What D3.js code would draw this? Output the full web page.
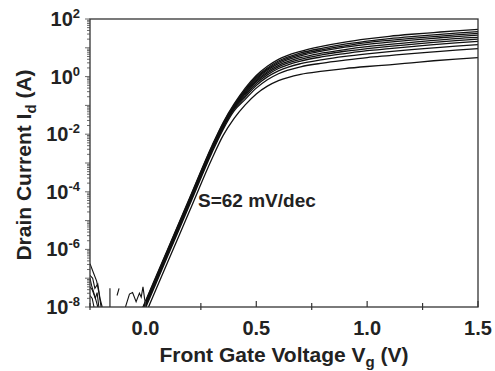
<!DOCTYPE html>
<html>
<head>
<meta charset="utf-8">
<script src="https://cdn.jsdelivr.net/npm/d3@7"></script>
<style>
  body { margin: 0; background: #fff; }
  text { font-family: "Liberation Sans", Arial, sans-serif; font-weight: bold; fill: #222; }
</style>
</head>
<body>
<div id="plot"></div>
<script>
var w = 495;
var h = 371;
var margin = {top: 19, right: 17, bottom: 64, left: 90};

// gate voltage (V) where the curves were read
var vg = [-0.02, 0.0, 0.1, 0.2, 0.3, 0.35, 0.4, 0.45, 0.5, 0.55, 0.6, 0.7, 0.8, 0.9, 1.0, 1.1, 1.2, 1.3, 1.4, 1.5];

// log10 of drain current (A), lowest curve first
var c0 = [-8.61, -8.25, -6.45, -4.65, -2.85, -2.05, -1.45, -0.98, -0.60, -0.33, -0.14, 0.08, 0.19, 0.28, 0.35, 0.41, 0.48, 0.55, 0.61, 0.656];
var c1 = [-8.40, -8.04, -6.24, -4.44, -2.64, -1.84, -1.19, -0.79, -0.40, -0.11, 0.10, 0.34, 0.47, 0.57, 0.66, 0.73, 0.80, 0.86, 0.92, 0.97];
var c2 = [-8.34, -7.98, -6.18, -4.38, -2.58, -1.78, -1.13, -0.71, -0.31, -0.01, 0.20, 0.45, 0.59, 0.70, 0.79, 0.87, 0.94, 1.00, 1.06, 1.11];
var c3 = [-8.31, -7.95, -6.15, -4.35, -2.55, -1.75, -1.10, -0.65, -0.24, 0.06, 0.28, 0.54, 0.69, 0.80, 0.90, 0.97, 1.04, 1.11, 1.17, 1.22];
var c4 = [-8.28, -7.92, -6.12, -4.32, -2.52, -1.72, -1.07, -0.60, -0.18, 0.12, 0.34, 0.60, 0.76, 0.88, 0.97, 1.05, 1.12, 1.19, 1.25, 1.30];
var c5 = [-8.26, -7.90, -6.10, -4.30, -2.50, -1.70, -1.05, -0.56, -0.14, 0.17, 0.39, 0.66, 0.82, 0.94, 1.04, 1.12, 1.19, 1.26, 1.32, 1.36];
var c6 = [-8.24, -7.88, -6.08, -4.28, -2.48, -1.68, -1.03, -0.52, -0.09, 0.22, 0.45, 0.72, 0.89, 1.02, 1.12, 1.20, 1.27, 1.33, 1.39, 1.44];
var c7 = [-8.22, -7.86, -6.06, -4.26, -2.46, -1.66, -1.01, -0.48, -0.05, 0.26, 0.50, 0.77, 0.94, 1.07, 1.18, 1.26, 1.33, 1.39, 1.45, 1.50];
var c8 = [-8.19, -7.83, -6.03, -4.23, -2.43, -1.63, -0.98, -0.45, -0.01, 0.30, 0.54, 0.82, 0.99, 1.13, 1.23, 1.32, 1.39, 1.45, 1.51, 1.56];
var c9 = [-8.16, -7.80, -6.00, -4.20, -2.40, -1.60, -0.95, -0.40, 0.04, 0.36, 0.60, 0.88, 1.06, 1.20, 1.31, 1.40, 1.47, 1.53, 1.59, 1.64];

// off-state noise below 0 V, [Vg, log10 Id]
var noiseA = [[-0.25, -6.5], [-0.235, -6.8], [-0.22, -7.1], [-0.21, -7.5], [-0.20, -8.0]];
var noiseB = [[-0.25, -6.9], [-0.238, -7.0], [-0.228, -7.35], [-0.215, -7.2], [-0.205, -7.7], [-0.195, -8.0]];
var noiseC = [[-0.25, -7.3], [-0.24, -7.4], [-0.226, -7.7], [-0.218, -7.5], [-0.21, -8.0]];
var noiseD = [[-0.25, -7.6], [-0.24, -7.7], [-0.232, -8.0]];
var noiseE = [[-0.25, -7.0], [-0.243, -7.25], [-0.235, -7.45], [-0.22, -7.85], [-0.215, -8.0]];
var noiseF = [[-0.16, -8.0], [-0.16, -7.35]];
var noiseG = [[-0.128, -7.6], [-0.119, -7.35]];
var noiseH = [[-0.09, -8.0], [-0.072, -7.55], [-0.058, -7.5], [-0.042, -7.82], [-0.027, -7.52], [-0.019, -7.66], [-0.011, -7.3], [-0.004, -7.7], [0.003, -8.0]];

var xMajor = [0.0, 0.5, 1.0, 1.5];
var xMinor = [-0.25, 0.25, 0.75, 1.25];
var yLabels = [-8, -6, -4, -2, 0, 2];

var curves = [c0, c1, c2, c3, c4, c5, c6, c7, c8, c9];
var noise = [noiseA, noiseB, noiseC, noiseD, noiseE, noiseF, noiseG, noiseH];

var xScale = d3.scaleLinear()
               .domain([-0.25, 1.5])
               .range([margin.left, w - margin.right]);

var yScale = d3.scaleLog()
               .domain([1e-8, 1e2])
               .range([h - margin.bottom, margin.top]);

var svg = d3.select("#plot")
            .append("svg")
            .attr("width", w)
            .attr("height", h);

svg.append("clipPath")
   .attr("id", "clip")
   .append("rect")
   .attr("x", margin.left)
   .attr("y", margin.top)
   .attr("width", w - margin.left - margin.right)
   .attr("height", h - margin.top - margin.bottom);

var line = d3.line()
             .x(function(d) { return xScale(d[0]); })
             .y(function(d) { return yScale(Math.pow(10, d[1])); })
             .curve(d3.curveMonotoneX);

var plot = svg.append("g").attr("clip-path", "url(#clip)");

plot.selectAll("path.curve")
    .data(curves)
    .enter()
    .append("path")
    .attr("class", "curve")
    .attr("d", function(c) { return line(c.map(function(v, i) { return [vg[i], v]; })); })
    .attr("fill", "none")
    .attr("stroke", "#111")
    .attr("stroke-width", 1.3);

plot.selectAll("path.noise")
    .data(noise)
    .enter()
    .append("path")
    .attr("class", "noise")
    .attr("d", d3.line()
                 .x(function(d) { return xScale(d[0]); })
                 .y(function(d) { return yScale(Math.pow(10, d[1])); }))
    .attr("fill", "none")
    .attr("stroke", "#111")
    .attr("stroke-width", 1.1);

// frame
var x0 = margin.left, x1 = w - margin.right, y0 = h - margin.bottom, y1 = margin.top;
svg.append("rect")
   .attr("x", x0).attr("y", y1)
   .attr("width", x1 - x0).attr("height", y0 - y1)
   .attr("fill", "none")
   .attr("stroke", "#333")
   .attr("stroke-width", 1.3);

// x ticks, pointing into the plot
svg.selectAll("line.xmaj")
   .data(xMajor)
   .enter()
   .append("line")
   .attr("x1", function(d) { return xScale(d); })
   .attr("x2", function(d) { return xScale(d); })
   .attr("y1", y0 - 6)
   .attr("y2", y0)
   .attr("stroke", "#333")
   .attr("stroke-width", 1.2);

svg.selectAll("line.xmin")
   .data(xMinor)
   .enter()
   .append("line")
   .attr("x1", function(d) { return xScale(d); })
   .attr("x2", function(d) { return xScale(d); })
   .attr("y1", y0 - 4)
   .attr("y2", y0 + 3)
   .attr("stroke", "#333")
   .attr("stroke-width", 1.2);

svg.selectAll("text.xlab")
   .data(xMajor)
   .enter()
   .append("text")
   .attr("x", function(d) { return xScale(d); })
   .attr("y", 335)
   .attr("text-anchor", "middle")
   .attr("font-size", "20px")
   .text(function(d) { return d.toFixed(1); });

// y ticks on the log axis, pointing out to the left
var yTicks = [];
for (var e = -8; e < 2; e++) {
  for (var m = 1; m < 10; m++) yTicks.push([m * Math.pow(10, e), m === 1]);
}
yTicks.push([1e2, true]);

svg.selectAll("line.ytick")
   .data(yTicks)
   .enter()
   .append("line")
   .attr("x1", function(d) { return x0 - (d[1] ? 5 : 3); })
   .attr("x2", x0)
   .attr("y1", function(d) { return yScale(d[0]); })
   .attr("y2", function(d) { return yScale(d[0]); })
   .attr("stroke", "#444")
   .attr("stroke-width", 0.8);

var ylab = svg.selectAll("text.ylab")
   .data(yLabels)
   .enter()
   .append("text")
   .attr("x", 80)
   .attr("y", function(d) { return yScale(Math.pow(10, d)) + 7; })
   .attr("text-anchor", "end")
   .attr("font-size", "20px");

ylab.append("tspan").text("10");
ylab.append("tspan")
    .attr("dy", -8)
    .attr("font-size", "13px")
    .text(function(d) { return d; });

// axis titles
var xt = svg.append("text")
   .attr("x", (x0 + x1) / 2)
   .attr("y", 362)
   .attr("text-anchor", "middle")
   .attr("font-size", "21px");
xt.append("tspan").text("Front Gate Voltage V");
xt.append("tspan").attr("dy", 5).attr("font-size", "15px").text("g");
xt.append("tspan").attr("dy", -5).text(" (V)");

var yt = svg.append("text")
   .attr("transform", "translate(31,165) rotate(-90)")
   .attr("text-anchor", "middle")
   .attr("font-size", "21px");
yt.append("tspan").text("Drain Current I");
yt.append("tspan").attr("dy", 5).attr("font-size", "15px").text("d");
yt.append("tspan").attr("dy", -5).text(" (A)");

svg.append("text")
   .attr("x", 198)
   .attr("y", 207)
   .attr("font-size", "19px")
   .text("S=62 mV/dec");
</script>
</body>
</html>
